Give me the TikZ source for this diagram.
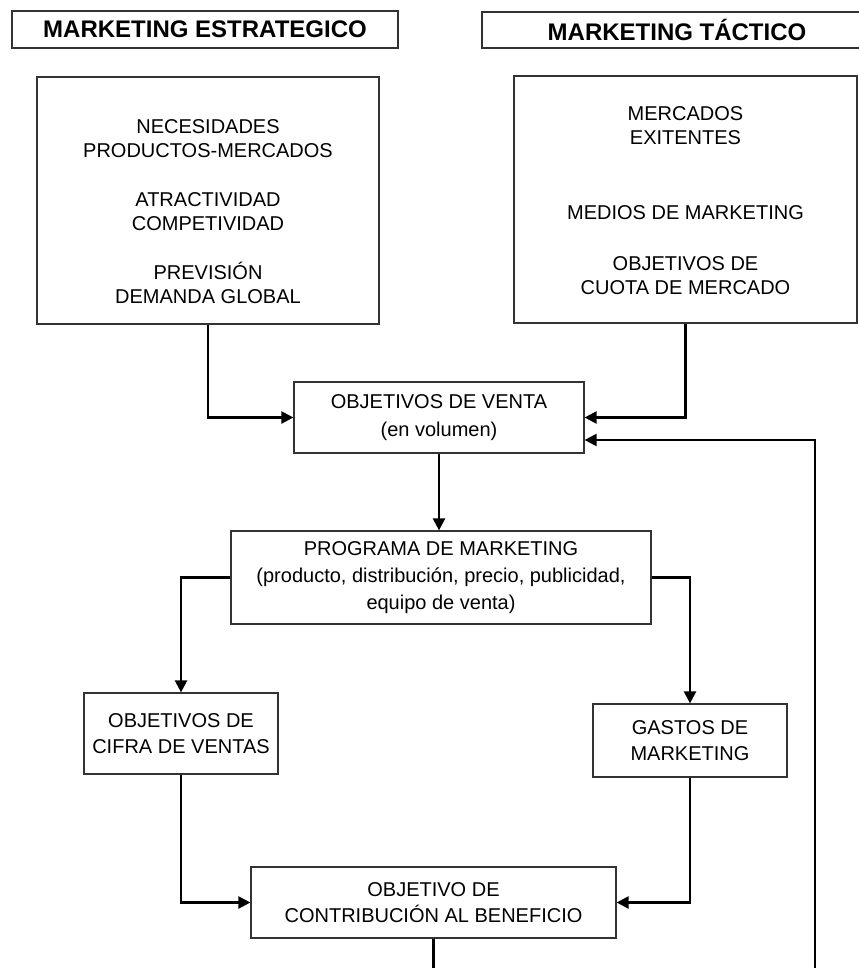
\documentclass[tikz,border=0pt]{standalone}
\usepackage{fontspec}
\setmainfont{Liberation Sans}
\usetikzlibrary{arrows.meta,calc}
\tikzset{
  boxline/.style={draw=black!80, line width=0.9pt, rectangle, inner sep=0pt, align=center},
  hdr/.style={boxline, font=\bfseries\fontsize{18}{20}\selectfont},
  bigbox/.style={boxline},
  bigtext/.style={align=center, inner sep=0pt, font=\fontsize{15}{18}\selectfont},
  smallbox/.style={boxline, font=\fontsize{15}{19}\selectfont},
  arr/.style={line width=1.7pt, -{Triangle[length=9pt,width=9pt]}},
  conn/.style={line width=1.7pt}
}
\begin{document}
\begin{tikzpicture}[x=0.75pt,y=-0.75pt]
\useasboundingbox (0,0) rectangle (859,968);
\clip (0,0) rectangle (859,968);
% headers
\node[hdr, minimum width=386*0.75pt, minimum height=37*0.75pt] (hl) at (205,29.5) {MARKETING ESTRATEGICO};
\node[hdr, minimum width=390*0.75pt, minimum height=36*0.75pt] (hr) at (677,30) {MARKETING TÁCTICO};
% big boxes
\node[bigbox, minimum width=342*0.75pt, minimum height=247*0.75pt] (estr) at (208,200.5) {};
\node[bigtext] (estrt) at (208,211.5) {NECESIDADES\\PRODUCTOS-MERCADOS\\[18.75pt]ATRACTIVIDAD\\COMPETIVIDAD\\[18.75pt]PREVISIÓN\\DEMANDA GLOBAL};
\node[bigbox, minimum width=343*0.75pt, minimum height=247*0.75pt] (tact) at (685.5,199.5) {};
\node[bigtext] (tactt) at (685.5,200.5) {MERCADOS\\EXITENTES\\[38.25pt]MEDIOS DE MARKETING\\[20pt]OBJETIVOS DE\\CUOTA DE MERCADO};
% small boxes
\node[smallbox, font=\fontsize{15}{20.5}\selectfont, minimum width=290*0.75pt, minimum height=71*0.75pt] (venta) at (439,417.5) {OBJETIVOS DE VENTA\\(en volumen)};
\node[smallbox, font=\fontsize{15}{20.5}\selectfont, minimum width=420*0.75pt, minimum height=93*0.75pt] (prog) at (441,577.5) {PROGRAMA DE MARKETING\\(producto, distribución, precio, publicidad,\\equipo de venta)};
\node[smallbox, minimum width=194*0.75pt, minimum height=81*0.75pt] (cifra) at (181,733.5) {OBJETIVOS DE\\CIFRA DE VENTAS};
\node[smallbox, minimum width=194*0.75pt, minimum height=73*0.75pt] (gastos) at (690,740.5) {GASTOS DE\\MARKETING};
\node[smallbox, minimum width=365*0.75pt, minimum height=71*0.75pt] (contrib) at (433.5,902.5) {OBJETIVO DE\\CONTRIBUCIÓN AL BENEFICIO};
% free ends at bottom edge
\coordinate (cb) at (433.5,975);
\coordinate (rb) at (815,975);
% connectors
\draw[arr] (estr.south) |- (venta.west);
\draw[arr] (tact.south) |- (venta.east);
\draw[arr] (rb) |- ($(venta.east)+(0,22.5)$);
\draw[arr] (venta.south) -- (venta.south |- prog.north);
\draw[arr] (prog.west) -| (cifra.north);
\draw[arr] (prog.east) -| (gastos.north);
\draw[arr] (cifra.south) |- (contrib.west);
\draw[arr] (gastos.south) |- (contrib.east);
\draw[conn] (contrib.south) -- (cb);
\end{tikzpicture}
\end{document}
